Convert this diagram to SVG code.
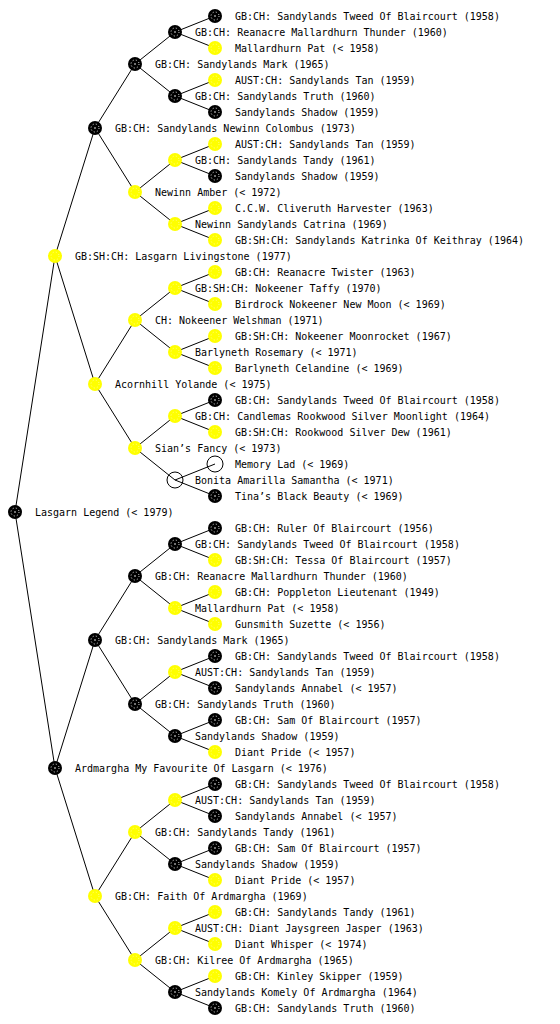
<svg xmlns="http://www.w3.org/2000/svg" xmlns:xlink="http://www.w3.org/1999/xlink" width="560" height="1024" viewBox="0 0 560 1024">
<style>
.t{font-family:"DejaVu Sans Mono","Liberation Mono",monospace;font-size:10px;fill:#000}
.e{stroke:#000;stroke-width:1;fill:none}
.u{fill:none;stroke:#000;stroke-width:1}
</style>
<defs>
<g id="bn"><circle r="7" fill="#000"/><circle r="4" fill="none" stroke="#fff" stroke-width="0.9" stroke-dasharray="1 2.2"/><circle r="0.8" fill="#fff"/></g>
<g id="yn"><circle r="7" fill="#ffff00"/><circle r="4" fill="none" stroke="#ffff99" stroke-width="0.9" stroke-dasharray="1 2.2"/></g>
</defs>
<rect width="560" height="1024" fill="#fff"/>
<g id="connectors" class="e">
<path d="M15,512L55,256M15,512L55,768"/>
<path d="M55,256L95,128M55,256L95,384M55,768L95,640M55,768L95,896"/>
<path d="M95,128L135,64M95,128L135,192M95,384L135,320M95,384L135,448M95,640L135,576M95,640L135,704M95,896L135,832M95,896L135,960"/>
<path d="M135,64L175,32M135,64L175,96M135,192L175,160M135,192L175,224M135,320L175,288M135,320L175,352M135,448L175,416M135,448L175,480"/>
<path d="M135,576L175,544M135,576L175,608M135,704L175,672M135,704L175,736M135,832L175,800M135,832L175,864M135,960L175,928M135,960L175,992"/>
<path d="M175,32L215,16M175,32L215,48M175,96L215,80M175,96L215,112M175,160L215,144M175,160L215,176M175,224L215,208M175,224L215,240"/>
<path d="M175,288L215,272M175,288L215,304M175,352L215,336M175,352L215,368M175,416L215,400M175,416L215,432M175,480L215,464M175,480L215,496"/>
<path d="M175,544L215,528M175,544L215,560M175,608L215,592M175,608L215,624M175,672L215,656M175,672L215,688M175,736L215,720M175,736L215,752"/>
<path d="M175,800L215,784M175,800L215,816M175,864L215,848M175,864L215,880M175,928L215,912M175,928L215,944M175,992L215,976M175,992L215,1008"/>
</g>
<g id="n1"><use href="#bn" x="215" y="16"/><text class="t" x="235" y="20">GB:CH: Sandylands Tweed Of Blaircourt (1958)</text></g>
<g id="n2"><use href="#bn" x="175" y="32"/><text class="t" x="195" y="36">GB:CH: Reanacre Mallardhurn Thunder (1960)</text></g>
<g id="n3"><use href="#yn" x="215" y="48"/><text class="t" x="235" y="52">Mallardhurn Pat (&lt; 1958)</text></g>
<g id="n4"><use href="#bn" x="135" y="64"/><text class="t" x="155" y="68">GB:CH: Sandylands Mark (1965)</text></g>
<g id="n5"><use href="#yn" x="215" y="80"/><text class="t" x="235" y="84">AUST:CH: Sandylands Tan (1959)</text></g>
<g id="n6"><use href="#bn" x="175" y="96"/><text class="t" x="195" y="100">GB:CH: Sandylands Truth (1960)</text></g>
<g id="n7"><use href="#bn" x="215" y="112"/><text class="t" x="235" y="116">Sandylands Shadow (1959)</text></g>
<g id="n8"><use href="#bn" x="95" y="128"/><text class="t" x="115" y="132">GB:CH: Sandylands Newinn Colombus (1973)</text></g>
<g id="n9"><use href="#yn" x="215" y="144"/><text class="t" x="235" y="148">AUST:CH: Sandylands Tan (1959)</text></g>
<g id="n10"><use href="#yn" x="175" y="160"/><text class="t" x="195" y="164">GB:CH: Sandylands Tandy (1961)</text></g>
<g id="n11"><use href="#bn" x="215" y="176"/><text class="t" x="235" y="180">Sandylands Shadow (1959)</text></g>
<g id="n12"><use href="#yn" x="135" y="192"/><text class="t" x="155" y="196">Newinn Amber (&lt; 1972)</text></g>
<g id="n13"><use href="#yn" x="215" y="208"/><text class="t" x="235" y="212">C.C.W. Cliveruth Harvester (1963)</text></g>
<g id="n14"><use href="#yn" x="175" y="224"/><text class="t" x="195" y="228">Newinn Sandylands Catrina (1969)</text></g>
<g id="n15"><use href="#yn" x="215" y="240"/><text class="t" x="235" y="244">GB:SH:CH: Sandylands Katrinka Of Keithray (1964)</text></g>
<g id="n16"><use href="#yn" x="55" y="256"/><text class="t" x="75" y="260">GB:SH:CH: Lasgarn Livingstone (1977)</text></g>
<g id="n17"><use href="#yn" x="215" y="272"/><text class="t" x="235" y="276">GB:CH: Reanacre Twister (1963)</text></g>
<g id="n18"><use href="#yn" x="175" y="288"/><text class="t" x="195" y="292">GB:SH:CH: Nokeener Taffy (1970)</text></g>
<g id="n19"><use href="#yn" x="215" y="304"/><text class="t" x="235" y="308">Birdrock Nokeener New Moon (&lt; 1969)</text></g>
<g id="n20"><use href="#yn" x="135" y="320"/><text class="t" x="155" y="324">CH: Nokeener Welshman (1971)</text></g>
<g id="n21"><use href="#yn" x="215" y="336"/><text class="t" x="235" y="340">GB:SH:CH: Nokeener Moonrocket (1967)</text></g>
<g id="n22"><use href="#yn" x="175" y="352"/><text class="t" x="195" y="356">Barlyneth Rosemary (&lt; 1971)</text></g>
<g id="n23"><use href="#yn" x="215" y="368"/><text class="t" x="235" y="372">Barlyneth Celandine (&lt; 1969)</text></g>
<g id="n24"><use href="#yn" x="95" y="384"/><text class="t" x="115" y="388">Acornhill Yolande (&lt; 1975)</text></g>
<g id="n25"><use href="#bn" x="215" y="400"/><text class="t" x="235" y="404">GB:CH: Sandylands Tweed Of Blaircourt (1958)</text></g>
<g id="n26"><use href="#yn" x="175" y="416"/><text class="t" x="195" y="420">GB:CH: Candlemas Rookwood Silver Moonlight (1964)</text></g>
<g id="n27"><use href="#yn" x="215" y="432"/><text class="t" x="235" y="436">GB:SH:CH: Rookwood Silver Dew (1961)</text></g>
<g id="n28"><use href="#yn" x="135" y="448"/><text class="t" x="155" y="452">Sian’s Fancy (&lt; 1973)</text></g>
<g id="n29"><circle class="u" cx="215" cy="464" r="8"/><text class="t" x="235" y="468">Memory Lad (&lt; 1969)</text></g>
<g id="n30"><circle class="u" cx="175" cy="480" r="8"/><text class="t" x="195" y="484">Bonita Amarilla Samantha (&lt; 1971)</text></g>
<g id="n31"><use href="#bn" x="215" y="496"/><text class="t" x="235" y="500">Tina’s Black Beauty (&lt; 1969)</text></g>
<g id="n32"><use href="#bn" x="15" y="512"/><text class="t" x="35" y="516">Lasgarn Legend (&lt; 1979)</text></g>
<g id="n33"><use href="#bn" x="215" y="528"/><text class="t" x="235" y="532">GB:CH: Ruler Of Blaircourt (1956)</text></g>
<g id="n34"><use href="#bn" x="175" y="544"/><text class="t" x="195" y="548">GB:CH: Sandylands Tweed Of Blaircourt (1958)</text></g>
<g id="n35"><use href="#yn" x="215" y="560"/><text class="t" x="235" y="564">GB:SH:CH: Tessa Of Blaircourt (1957)</text></g>
<g id="n36"><use href="#bn" x="135" y="576"/><text class="t" x="155" y="580">GB:CH: Reanacre Mallardhurn Thunder (1960)</text></g>
<g id="n37"><use href="#yn" x="215" y="592"/><text class="t" x="235" y="596">GB:CH: Poppleton Lieutenant (1949)</text></g>
<g id="n38"><use href="#yn" x="175" y="608"/><text class="t" x="195" y="612">Mallardhurn Pat (&lt; 1958)</text></g>
<g id="n39"><use href="#yn" x="215" y="624"/><text class="t" x="235" y="628">Gunsmith Suzette (&lt; 1956)</text></g>
<g id="n40"><use href="#bn" x="95" y="640"/><text class="t" x="115" y="644">GB:CH: Sandylands Mark (1965)</text></g>
<g id="n41"><use href="#bn" x="215" y="656"/><text class="t" x="235" y="660">GB:CH: Sandylands Tweed Of Blaircourt (1958)</text></g>
<g id="n42"><use href="#yn" x="175" y="672"/><text class="t" x="195" y="676">AUST:CH: Sandylands Tan (1959)</text></g>
<g id="n43"><use href="#bn" x="215" y="688"/><text class="t" x="235" y="692">Sandylands Annabel (&lt; 1957)</text></g>
<g id="n44"><use href="#bn" x="135" y="704"/><text class="t" x="155" y="708">GB:CH: Sandylands Truth (1960)</text></g>
<g id="n45"><use href="#bn" x="215" y="720"/><text class="t" x="235" y="724">GB:CH: Sam Of Blaircourt (1957)</text></g>
<g id="n46"><use href="#bn" x="175" y="736"/><text class="t" x="195" y="740">Sandylands Shadow (1959)</text></g>
<g id="n47"><use href="#yn" x="215" y="752"/><text class="t" x="235" y="756">Diant Pride (&lt; 1957)</text></g>
<g id="n48"><use href="#bn" x="55" y="768"/><text class="t" x="75" y="772">Ardmargha My Favourite Of Lasgarn (&lt; 1976)</text></g>
<g id="n49"><use href="#bn" x="215" y="784"/><text class="t" x="235" y="788">GB:CH: Sandylands Tweed Of Blaircourt (1958)</text></g>
<g id="n50"><use href="#yn" x="175" y="800"/><text class="t" x="195" y="804">AUST:CH: Sandylands Tan (1959)</text></g>
<g id="n51"><use href="#bn" x="215" y="816"/><text class="t" x="235" y="820">Sandylands Annabel (&lt; 1957)</text></g>
<g id="n52"><use href="#yn" x="135" y="832"/><text class="t" x="155" y="836">GB:CH: Sandylands Tandy (1961)</text></g>
<g id="n53"><use href="#bn" x="215" y="848"/><text class="t" x="235" y="852">GB:CH: Sam Of Blaircourt (1957)</text></g>
<g id="n54"><use href="#bn" x="175" y="864"/><text class="t" x="195" y="868">Sandylands Shadow (1959)</text></g>
<g id="n55"><use href="#yn" x="215" y="880"/><text class="t" x="235" y="884">Diant Pride (&lt; 1957)</text></g>
<g id="n56"><use href="#yn" x="95" y="896"/><text class="t" x="115" y="900">GB:CH: Faith Of Ardmargha (1969)</text></g>
<g id="n57"><use href="#yn" x="215" y="912"/><text class="t" x="235" y="916">GB:CH: Sandylands Tandy (1961)</text></g>
<g id="n58"><use href="#yn" x="175" y="928"/><text class="t" x="195" y="932">AUST:CH: Diant Jaysgreen Jasper (1963)</text></g>
<g id="n59"><use href="#yn" x="215" y="944"/><text class="t" x="235" y="948">Diant Whisper (&lt; 1974)</text></g>
<g id="n60"><use href="#yn" x="135" y="960"/><text class="t" x="155" y="964">GB:CH: Kilree Of Ardmargha (1965)</text></g>
<g id="n61"><use href="#yn" x="215" y="976"/><text class="t" x="235" y="980">GB:CH: Kinley Skipper (1959)</text></g>
<g id="n62"><use href="#bn" x="175" y="992"/><text class="t" x="195" y="996">Sandylands Komely Of Ardmargha (1964)</text></g>
<g id="n63"><use href="#bn" x="215" y="1008"/><text class="t" x="235" y="1012">GB:CH: Sandylands Truth (1960)</text></g>
</svg>
